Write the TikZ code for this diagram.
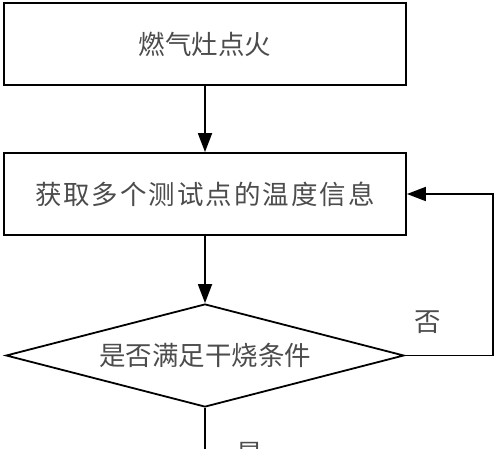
\documentclass[tikz,border=0pt]{standalone}
\usepackage{fontspec}
\newfontfamily\cjk{Noto Sans CJK SC}
\usetikzlibrary{arrows.meta,shapes.geometric}
\begin{document}
\begin{tikzpicture}[x=1pt,y=-1pt,
  line width=1.8pt,
  txt/.style={font=\cjk\fontsize{26.5}{30}\selectfont, text=black!70},
  procbox/.style={draw, rectangle, minimum width=402pt, minimum height=82pt, inner sep=0pt, txt},
  decbox/.style={draw, diamond, shape aspect=3.86, minimum width=398pt, minimum height=103pt, inner sep=0pt, txt},
  arr/.style={-{Triangle[width=14pt,length=19pt]}}
]
\useasboundingbox (0,0) rectangle (500,449);
\node[procbox] (b1) at (205,44) {燃气灶点火};
\node[procbox] (b2) at (205,194) {获\kern2pt 取\kern2pt 多\kern2pt 个\kern2pt 测\kern2pt 试\kern2pt 点\kern2pt 的\kern2pt 温\kern2pt 度\kern2pt 信\kern2pt 息};
\node[decbox] (d) at (205,355.5) {是否满足干烧条件};
\coordinate (bot) at (205,460);
\coordinate (rc) at (493,355.5);
\node[txt] (no) at (428,322) {否};
\node[txt] (yes) at (250,454) {是};
\draw[arr] (b1.south) -- (b2.north);
\draw[arr] (b2.south) -- (d.north);
\draw[arr] (d.east) -- (rc) |- (b2.east);
\draw (d.south) -- (bot);
\end{tikzpicture}
\end{document}
